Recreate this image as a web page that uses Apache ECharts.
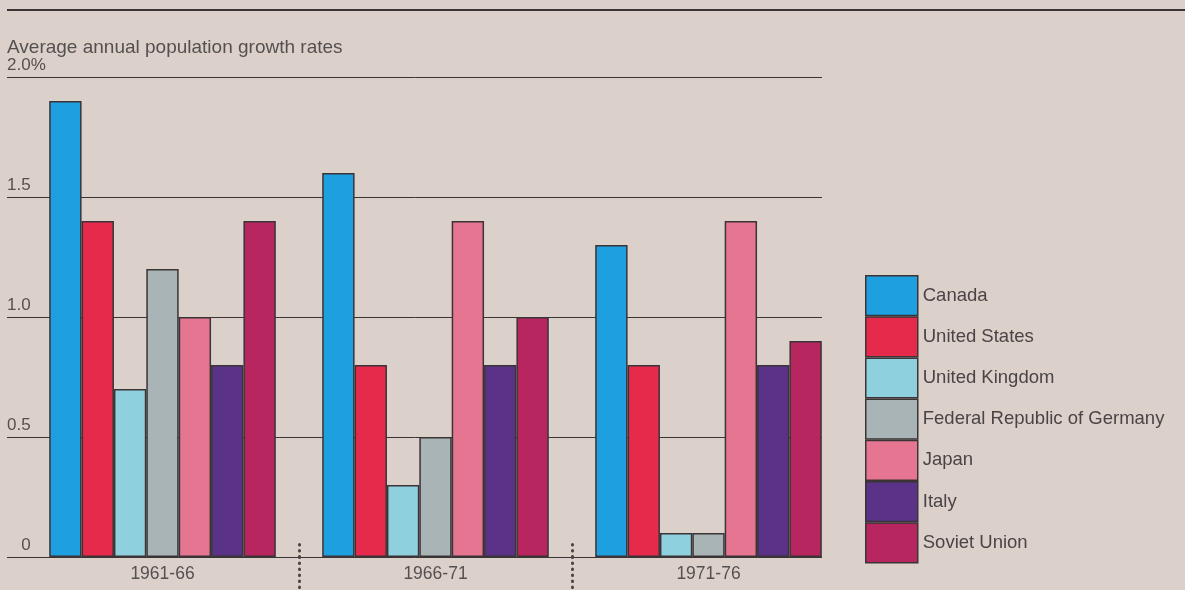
<!DOCTYPE html>
<html>
<head>
<meta charset="utf-8">
<script src="https://cdn.jsdelivr.net/npm/echarts@6/dist/echarts.min.js"></script>
<style>
html,body{margin:0;padding:0;background:#dcd1ca;}
#chart{width:1185px;height:590px;}
</style>
</head>
<body>
<div id="chart"></div>
<script>
const periods = ['1961-66', '1966-71', '1971-76'];
const countries = ['Canada', 'United States', 'United Kingdom', 'Federal Republic of Germany', 'Japan', 'Italy', 'Soviet Union'];
const canada = [1.9, 1.6, 1.3];
const unitedStates = [1.4, 0.8, 0.8];
const unitedKingdom = [0.7, 0.3, 0.1];
const germany = [1.2, 0.5, 0.1];
const japan = [1.0, 1.4, 1.4];
const italy = [0.8, 0.8, 0.8];
const sovietUnion = [1.4, 1.0, 0.9];
const yTicks = [0, 0.5, 1.0, 1.5, 2.0];
const titleText = 'Average annual population growth rates';

const seriesValues = [canada, unitedStates, unitedKingdom, germany, japan, italy, sovietUnion];
const colors = ['#1e9fe0', '#e62a4c', '#8fd0de', '#a8b4b5', '#e67592', '#5a3288', '#b82660'];
const FONT = '"Liberation Sans", Arial, Helvetica, sans-serif';

const chart = echarts.init(document.getElementById('chart'));

const series = countries.map((name, i) => ({
  name: name,
  type: 'bar',
  xAxisIndex: 0,
  yAxisIndex: 0,
  data: seriesValues[i],
  barGap: '0%',
  barCategoryGap: '17%',
  itemStyle: { color: colors[i], borderColor: '#3a3436', borderWidth: 1.5 },
  emphasis: { disabled: true }
}));

const option = {
  backgroundColor: '#dcd1ca',
  animation: false,
  color: colors,
  textStyle: { fontFamily: FONT },
  title: {
    text: titleText,
    left: 2,
    top: 33,
    textStyle: { fontFamily: FONT, fontSize: 19, fontWeight: 'normal', color: '#555050' }
  },
  graphic: [{
    type: 'line',
    shape: { x1: 7, y1: 10, x2: 1185, y2: 10 },
    style: { stroke: '#3a3436', lineWidth: 2 }
  }],
  legend: {
    orient: 'vertical',
    left: 865,
    top: 275,
    padding: 0,
    itemWidth: 52,
    itemHeight: 39.7,
    itemGap: 0,
    icon: 'rect',
    selectedMode: false,
    data: countries,
    itemStyle: { borderColor: '#3a3436', borderWidth: 1.5 },
    textStyle: { fontFamily: FONT, fontSize: 18.5, color: '#4a4446' }
  },
  grid: [
    { left: 26, top: 77, width: 819, height: 480 },
    { left: 7, top: 77, width: 815, height: 480 },
    { left: 299, top: 77, width: 273, height: 480 }
  ],
  xAxis: [
    {
      type: 'category', gridIndex: 0, data: periods,
      axisLine: { show: false }, axisTick: { show: false },
      axisLabel: { fontFamily: FONT, fontSize: 17.5, color: '#555050', margin: 8 }
    },
    { type: 'value', gridIndex: 1, min: 0, max: 1, show: false },
    {
      type: 'value', gridIndex: 2, min: 1, max: 2, interval: 1,
      axisLine: { show: false }, axisLabel: { show: false }, splitLine: { show: false },
      axisTick: { show: true, inside: false, length: 34, lineStyle: { color: '#4a4446', width: 3, type: [0.5, 5.5], cap: 'round' } }
    },
    {
      type: 'value', gridIndex: 2, min: 1, max: 2, interval: 1, position: 'bottom',
      axisLine: { show: false }, axisLabel: { show: false }, splitLine: { show: false },
      axisTick: { show: true, inside: true, length: 18, lineStyle: { color: '#4a4446', width: 3, type: [0.5, 5.5], cap: 'round' } }
    }
  ],
  yAxis: [
    { type: 'value', gridIndex: 0, min: 0, max: 2, show: false },
    {
      type: 'value', gridIndex: 1, min: 0, max: 2, interval: 0.5,
      axisLine: { show: false }, axisTick: { show: false },
      splitLine: { show: true, lineStyle: { color: '#3a3436', width: 1 } },
      axisLabel: {
        inside: true, margin: 0, align: 'left', verticalAlign: 'bottom',
        padding: [0, 0, 3, 0],
        fontFamily: FONT, fontSize: 17, color: '#555050',
        formatter: function (v) {
          if (v === yTicks[0]) return '   ' + '0';
          if (v === yTicks[yTicks.length - 1]) return v.toFixed(1) + '%';
          return v.toFixed(1);
        }
      }
    },
    { type: 'value', gridIndex: 2, min: 0, max: 1, show: false }
  ],
  series: series
};

chart.setOption(option);
</script>
</body>
</html>
